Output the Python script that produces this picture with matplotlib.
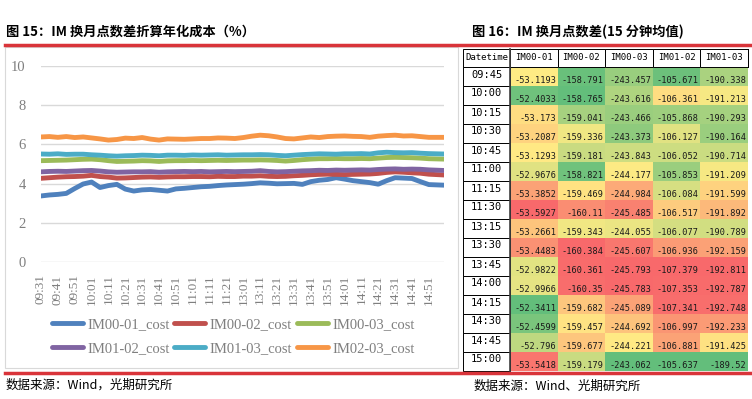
import numpy as np
import matplotlib.pyplot as plt
from matplotlib.colors import LinearSegmentedColormap
from matplotlib.patches import Rectangle

plt.rcParams['font.family'] = ['Noto Sans CJK SC', 'DejaVu Sans']

# left chart: annualised roll cost (%), one reading every 5 trading minutes (last one at 15:00)
tick_labels = ["09:31", "09:41", "09:51", "10:01", "10:11", "10:21", "10:31", "10:41",
               "10:51", "11:01", "11:11", "11:21", "13:01", "13:11", "13:21", "13:31",
               "13:41", "13:51", "14:01", "14:11", "14:21", "14:31", "14:41", "14:51"]
minutes = list(range(0, 235, 5)) + [239]   # trading-minute index of each reading

im00_01_cost = [3.37, 3.42, 3.45, 3.50, 3.75, 3.98, 4.08, 3.80, 3.90, 3.96, 3.72, 3.62,
                3.68, 3.70, 3.66, 3.62, 3.73, 3.76, 3.80, 3.84, 3.86, 3.90, 3.93, 3.95,
                3.97, 4.00, 4.04, 4.02, 3.99, 4.00, 4.01, 3.96, 4.10, 4.17, 4.21, 4.30,
                4.23, 4.15, 4.10, 4.05, 3.97, 4.15, 4.30, 4.28, 4.26, 4.10, 3.95, 3.92]
im00_02_cost = [4.27, 4.30, 4.33, 4.35, 4.36, 4.38, 4.42, 4.36, 4.33, 4.28, 4.29, 4.31,
                4.33, 4.34, 4.32, 4.34, 4.35, 4.35, 4.36, 4.36, 4.35, 4.37, 4.36, 4.36,
                4.38, 4.38, 4.40, 4.37, 4.36, 4.37, 4.40, 4.42, 4.45, 4.47, 4.48, 4.47,
                4.46, 4.47, 4.48, 4.49, 4.52, 4.57, 4.60, 4.58, 4.55, 4.53, 4.48, 4.44]
im00_03_cost = [5.17, 5.18, 5.19, 5.20, 5.22, 5.24, 5.25, 5.22, 5.17, 5.13, 5.14, 5.15,
                5.17, 5.16, 5.13, 5.16, 5.17, 5.17, 5.18, 5.17, 5.18, 5.19, 5.18, 5.19,
                5.20, 5.20, 5.21, 5.20, 5.18, 5.15, 5.18, 5.22, 5.25, 5.27, 5.27, 5.28,
                5.27, 5.27, 5.28, 5.27, 5.30, 5.33, 5.34, 5.33, 5.32, 5.30, 5.27, 5.25]
im01_02_cost = [4.60, 4.62, 4.63, 4.62, 4.64, 4.66, 4.67, 4.64, 4.60, 4.58, 4.59, 4.60,
                4.60, 4.61, 4.58, 4.60, 4.61, 4.62, 4.61, 4.62, 4.60, 4.61, 4.62, 4.61,
                4.62, 4.63, 4.66, 4.62, 4.60, 4.61, 4.63, 4.65, 4.66, 4.68, 4.67, 4.69,
                4.68, 4.69, 4.70, 4.69, 4.72, 4.74, 4.75, 4.73, 4.74, 4.73, 4.70, 4.67]
im01_03_cost = [5.51, 5.50, 5.52, 5.49, 5.50, 5.50, 5.47, 5.45, 5.42, 5.40, 5.42, 5.43,
                5.45, 5.44, 5.42, 5.45, 5.45, 5.44, 5.46, 5.45, 5.46, 5.47, 5.45, 5.46,
                5.47, 5.47, 5.48, 5.47, 5.44, 5.42, 5.45, 5.48, 5.50, 5.52, 5.51, 5.50,
                5.52, 5.52, 5.53, 5.51, 5.57, 5.60, 5.58, 5.57, 5.58, 5.55, 5.53, 5.51]
im02_03_cost = [6.38, 6.40, 6.36, 6.40, 6.35, 6.38, 6.33, 6.28, 6.22, 6.25, 6.32, 6.30,
                6.35, 6.27, 6.22, 6.28, 6.27, 6.26, 6.28, 6.30, 6.30, 6.33, 6.32, 6.30,
                6.35, 6.42, 6.47, 6.44, 6.38, 6.30, 6.28, 6.33, 6.38, 6.35, 6.40, 6.42,
                6.43, 6.41, 6.40, 6.36, 6.42, 6.45, 6.47, 6.43, 6.44, 6.40, 6.36, 6.36]

series_names = ["IM00-01_cost", "IM00-02_cost", "IM00-03_cost",
                "IM01-02_cost", "IM01-03_cost", "IM02-03_cost"]
series_colors = ["#4F81BD", "#C0504D", "#9BBB59", "#8064A2", "#4BACC6", "#F79646"]

# right table: 15-minute average point spread
table_times = ["09:45", "10:00", "10:15", "10:30", "10:45", "11:00", "11:15", "11:30",
               "13:15", "13:30", "13:45", "14:00", "14:15", "14:30", "14:45", "15:00"]
table_cols = ["IM00-01", "IM00-02", "IM00-03", "IM01-02", "IM01-03"]
im00_01 = [-53.1193, -52.4033, -53.173, -53.2087, -53.1293, -52.9676, -53.3852, -53.5927,
           -53.2661, -53.4483, -52.9822, -52.9966, -52.3411, -52.4599, -52.796, -53.5418]
im00_02 = [-158.791, -158.765, -159.041, -159.336, -159.181, -158.821, -159.469, -160.11,
           -159.343, -160.384, -160.361, -160.35, -159.682, -159.457, -159.677, -159.179]
im00_03 = [-243.457, -243.616, -243.466, -243.373, -243.843, -244.177, -244.984, -245.485,
           -244.055, -245.607, -245.793, -245.783, -245.089, -244.692, -244.221, -243.062]
im01_02 = [-105.671, -106.361, -105.868, -106.127, -106.052, -105.853, -106.084, -106.517,
           -106.077, -106.936, -107.379, -107.353, -107.341, -106.997, -106.881, -105.637]
im01_03 = [-190.338, -191.213, -190.293, -190.164, -190.714, -191.209, -191.599, -191.892,
           -190.789, -192.159, -192.811, -192.787, -192.748, -192.233, -191.425, -189.52]

W, H = 752, 399
fig = plt.figure(figsize=(W / 100, H / 100), dpi=100)

# ---- line chart ----
ax = fig.add_axes([41 / W, 1 - 262 / H, (444 - 41) / W, (262 - 66) / H])
all_series = [im00_01_cost, im00_02_cost, im00_03_cost, im01_02_cost, im01_03_cost, im02_03_cost]
handles = []
for vals, name, col in zip(all_series, series_names, series_colors):
    h, = ax.plot(minutes, vals, color=col, lw=3.5, label=name, solid_capstyle='round',
                 solid_joinstyle='round')
    handles.append(h)

ax.set_xlim(0, 239)
ax.set_ylim(0, 10)
ax.set_yticks(range(0, 11, 2))
ax.set_xticks(np.arange(len(tick_labels)) * 10)
ax.set_xticklabels(tick_labels, rotation=90, family='Liberation Serif', fontsize=9.5, color='#7F7F7F')
ax.set_yticklabels([str(v) for v in range(0, 11, 2)], family='Liberation Serif',
                   fontsize=10.5, color='#7F7F7F')
ax.tick_params(axis='both', length=0)
ax.tick_params(axis='y', pad=11)
ax.tick_params(axis='x', pad=9)
ax.grid(axis='y', color='#D9D9D9', lw=1)
ax.set_axisbelow(True)
for s in ax.spines.values():
    s.set_visible(False)

# legend filled row by row, like the original
order = [0, 3, 1, 4, 2, 5]
fig.legend([handles[k] for k in order], [series_names[k] for k in order],
           loc='upper left', bbox_to_anchor=(52 / W, 1 - 318 / H), ncol=3, frameon=False,
           prop={'family': 'Liberation Serif', 'size': 10.5}, labelcolor='#7F7F7F',
           handlelength=2.1, handletextpad=0.3, columnspacing=0.35, labelspacing=0.7,
           borderpad=0, borderaxespad=0)

# ---- overlay in pixel coordinates ----
ov = fig.add_axes([0, 0, 1, 1], zorder=-1)
ov.set_xlim(0, W)
ov.set_ylim(H, 0)
ov.axis('off')

ov.add_patch(Rectangle((5, 47), 453, 321, fill=False, edgecolor='#D9D9D9', lw=0.8))
ov.plot([5, W], [45, 45], color='#D9343A', lw=2.5)
ov.plot([5, W], [372.5, 372.5], color='#D9343A', lw=2.5)

fig.text(6 / W, 1 - 32 / H, "图 15：IM 换月点数差折算年化成本（%）", fontsize=9.5,
         fontweight='bold', va='center')
fig.text(472 / W, 1 - 32 / H, "图 16：IM 换月点数差(15 分钟均值)", fontsize=9.5,
         fontweight='bold', va='center')
fig.text(6 / W, 1 - 385 / H, "数据来源：Wind，光期研究所", fontsize=9, va='center')
fig.text(474 / W, 1 - 386 / H, "数据来源：Wind、光期研究所", fontsize=9, va='center')

# ---- heat table ----
cmap = LinearSegmentedColormap.from_list('ryg', ['#F8696B', '#FFEB84', '#63BE7B'])
table_vals = [im00_01, im00_02, im00_03, im01_02, im01_03]
x_dt, x_data, cw = 463, 510, 47.6
y_head, y_data, rh = 48.5, 67, 19.0
mono = 'DejaVu Sans Mono'

for j, (name, vals) in enumerate(zip(table_cols, table_vals)):
    v = np.array(vals)
    lo, mid, hi = v.min(), np.median(v), v.max()
    x0 = x_data + j * cw
    for i, val in enumerate(vals):
        if val <= mid:
            t = 0.5 * (val - lo) / (mid - lo)
        else:
            t = 0.5 + 0.5 * (val - mid) / (hi - mid)
        y0 = y_data + i * rh
        ov.add_patch(Rectangle((x0, y0), cw, rh, facecolor=cmap(t), edgecolor='none'))
        ov.text(x0 + cw - 1.5, y0 + 13.5, str(val), ha='right', va='center',
                family=mono, fontsize=6.2, color='#1a1a1a')
    ov.add_patch(Rectangle((x0, y_head), cw, y_data - y_head, facecolor='white',
                           edgecolor='black', lw=0.7))
    ov.text(x0 + cw / 2, (y_head + y_data) / 2, name, ha='center', va='center',
            family=mono, fontsize=6.5)

ov.add_patch(Rectangle((x_dt, y_head), x_data - x_dt, y_data - y_head, facecolor='white',
                       edgecolor='black', lw=0.7))
ov.text((x_dt + x_data) / 2, (y_head + y_data) / 2, "Datetime", ha='center', va='center',
        family=mono, fontsize=6.5)
for i, tm in enumerate(table_times):
    y0 = y_data + i * rh
    ov.add_patch(Rectangle((x_dt, y0), x_data - x_dt, rh, facecolor='white',
                           edgecolor='black', lw=0.7))
    ov.text((x_dt + x_data) / 2, y0 + 7.5, tm, ha='center', va='center',
            family=mono, fontsize=7.5)
ov.plot([x_data, x_data], [y_head, y_data + len(table_times) * rh], color='#404040', lw=1.2)
ov.plot([x_data + len(table_cols) * cw] * 2, [y_head, y_data], color='black', lw=0.7)

fig.savefig('out.png', dpi=100)
